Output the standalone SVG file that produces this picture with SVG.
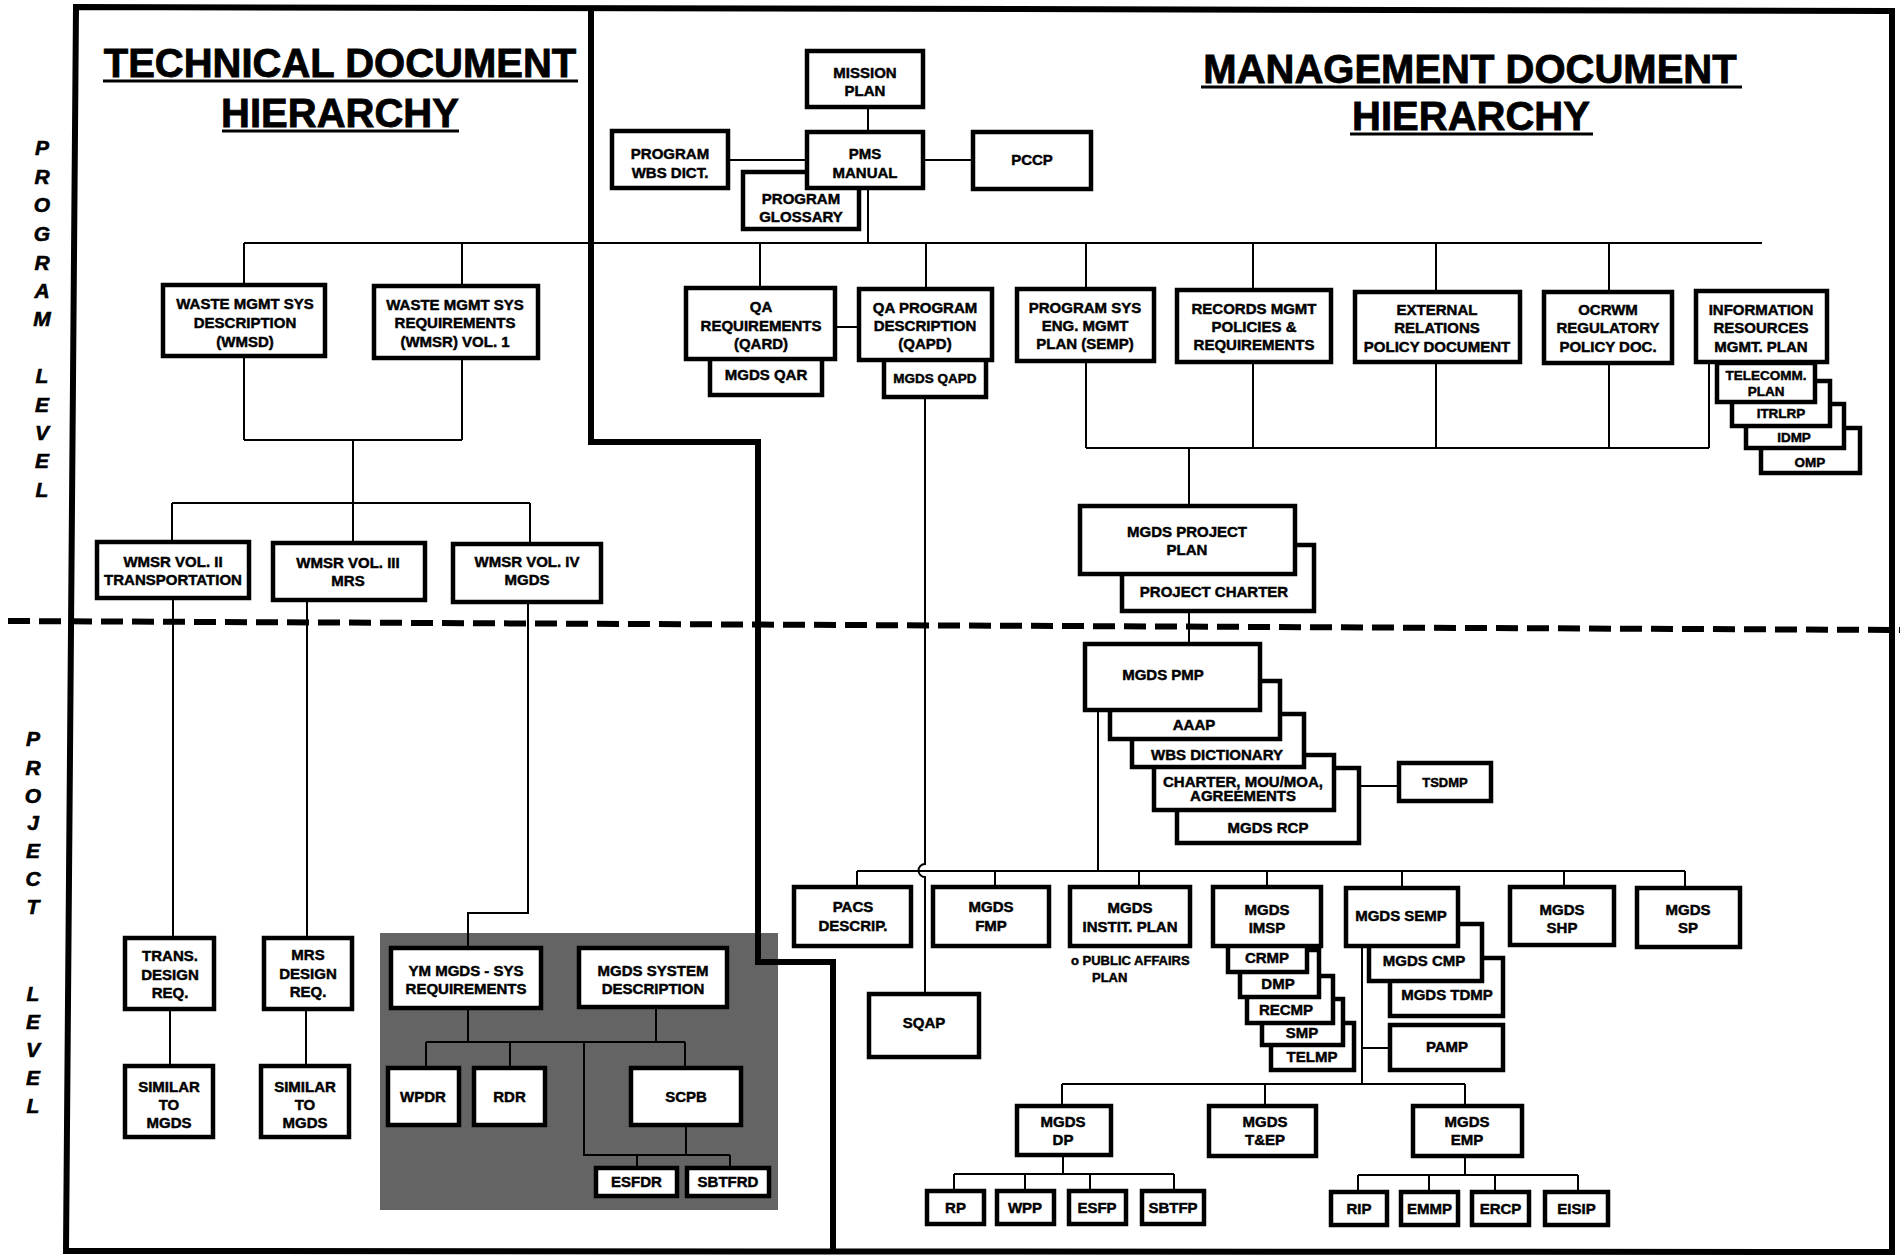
<svg xmlns="http://www.w3.org/2000/svg" width="1900" height="1255" viewBox="0 0 1900 1255">
<style>
.b{fill:#fff;stroke:#000;stroke-width:4.5}
.c{fill:none;stroke:#000;stroke-width:2}
.t{font-family:"Liberation Sans",Arial,sans-serif;font-weight:bold;font-size:15px;text-anchor:middle;fill:#000;stroke:#000;stroke-width:0.45}
.s{font-size:13.5px}
.ti{font-family:"Liberation Sans",Arial,sans-serif;font-weight:bold;font-size:40px;text-anchor:middle;fill:#000;stroke:#000;stroke-width:0.8}
.side{font-family:"Liberation Sans",Arial,sans-serif;font-weight:bold;font-style:italic;font-size:21px;text-anchor:middle;fill:#000;stroke:#000;stroke-width:0.6}
.ul{stroke:#000;stroke-width:3}
.frame{fill:none;stroke:#000;stroke-width:6}
</style>
<rect x="0" y="0" width="1900" height="1255" fill="#fff"/>

<!-- shaded region -->
<rect id="shade" x="380" y="933" width="398" height="277" fill="#646464"/>

<!-- side labels -->
<g id="program-level-label" class="side">
<text x="42" y="155">P</text><text x="42" y="184">R</text><text x="42" y="212">O</text><text x="42" y="241">G</text><text x="42" y="270">R</text><text x="42" y="298">A</text><text x="42" y="326">M</text>
<text x="42" y="383">L</text><text x="42" y="412">E</text><text x="42" y="440">V</text><text x="42" y="468">E</text><text x="42" y="497">L</text>
</g>
<g id="project-level-label" class="side">
<text x="33" y="746">P</text><text x="33" y="775">R</text><text x="33" y="803">O</text><text x="33" y="830">J</text><text x="33" y="858">E</text><text x="33" y="886">C</text><text x="33" y="914">T</text>
<text x="33" y="1001">L</text><text x="33" y="1029">E</text><text x="33" y="1057">V</text><text x="33" y="1085">E</text><text x="33" y="1113">L</text>
</g>

<!-- titles -->
<g id="title-technical">
<text class="ti" x="340" y="77">TECHNICAL DOCUMENT</text>
<line class="ul" x1="103" y1="81" x2="578" y2="81"/>
<text class="ti" x="340" y="127">HIERARCHY</text>
<line class="ul" x1="222" y1="131" x2="459" y2="131"/>
</g>
<g id="title-management">
<text class="ti" x="1470" y="83">MANAGEMENT DOCUMENT</text>
<line class="ul" x1="1201" y1="87" x2="1742" y2="87"/>
<text class="ti" x="1471" y="130">HIERARCHY</text>
<line class="ul" x1="1350" y1="134" x2="1593" y2="134"/>
</g>

<!-- connectors -->
<g id="connectors" class="c">
<path d="M244,243 H1762"/>
<path d="M244,243 V285 M462,243 V286"/>
<path d="M244,356 V440 M462,358 V440 M244,440 H462 M353,440 V503 M172,503 H530 M172,503 V542 M353,503 V543 M530,503 V544"/>
<path d="M173,598 V938 M307,600 V938"/>
<path d="M528,602 V913 H468 V948"/>
<path d="M170,1009 V1066 M306,1009 V1066"/>
<path d="M468,1008 V1042 M656,1007 V1042 M426,1042 H685 M426,1042 V1068 M510,1042 V1068 M685,1042 V1068"/>
<path d="M584,1042 V1155 H730 M637,1155 V1168 M730,1155 V1168 M686,1125 V1155"/>
<path d="M868,107 V132 M728,160 H807 M923,160 H973 M868,188 V243"/>
<path d="M760,243 V288 M926,243 V289 M1086,243 V289 M1253,243 V290 M1436,243 V292 M1609,243 V292"/>
<path d="M835,327 H859"/>
<path d="M1086,361 V448 M1253,362 V448 M1436,362 V448 M1609,363 V448 M1709,362 V448 M1086,448 H1709 M1189,448 V506"/>
<path d="M1189,611 V644"/>
<path d="M1359,786 H1399"/>
<path d="M1098,710 V871 M857,871 H1685"/>
<path d="M857,871 V887 M995,871 V887 M1139,871 V887 M1267,871 V887 M1402,871 V888 M1564,871 V887 M1685,871 V888"/>
<path d="M925,397 V864 A6.5,6.5 0 0 0 925,877 V994"/>
<path d="M1362,946 V1084 M1362,1048 H1390 M1062,1084 H1465 M1062,1084 V1106 M1265,1084 V1106 M1465,1084 V1106"/>
<path d="M1063,1155 V1174 M954,1174 H1174 M954,1174 V1191 M1025,1174 V1191 M1090,1174 V1191 M1174,1174 V1191"/>
<path d="M1465,1156 V1175 M1358,1175 H1578 M1358,1175 V1192 M1429,1175 V1192 M1495,1175 V1192 M1578,1175 V1192"/>
</g>

<!-- technical program-level nodes -->
<g id="wmsd"><rect class="b" x="163" y="285" width="162" height="71"/><text class="t"><tspan x="245" y="309">WASTE MGMT SYS</tspan><tspan x="245" y="328">DESCRIPTION</tspan><tspan x="245" y="347">(WMSD)</tspan></text></g>
<g id="wmsr1"><rect class="b" x="374" y="286" width="164" height="72"/><text class="t"><tspan x="455" y="310">WASTE MGMT SYS</tspan><tspan x="455" y="328">REQUIREMENTS</tspan><tspan x="455" y="347">(WMSR) VOL. 1</tspan></text></g>
<g id="wmsr2"><rect class="b" x="97" y="542" width="152" height="56"/><text class="t"><tspan x="173" y="567">WMSR VOL. II</tspan><tspan x="173" y="585">TRANSPORTATION</tspan></text></g>
<g id="wmsr3"><rect class="b" x="273" y="543" width="152" height="57"/><text class="t"><tspan x="348" y="568">WMSR VOL. III</tspan><tspan x="348" y="586">MRS</tspan></text></g>
<g id="wmsr4"><rect class="b" x="453" y="544" width="148" height="58"/><text class="t"><tspan x="527" y="567">WMSR VOL. IV</tspan><tspan x="527" y="585">MGDS</tspan></text></g>

<!-- technical project-level nodes -->
<g id="trans-design"><rect class="b" x="125" y="938" width="89" height="71"/><text class="t"><tspan x="170" y="961">TRANS.</tspan><tspan x="170" y="980">DESIGN</tspan><tspan x="170" y="998">REQ.</tspan></text></g>
<g id="mrs-design"><rect class="b" x="264" y="938" width="88" height="71"/><text class="t"><tspan x="308" y="960">MRS</tspan><tspan x="308" y="979">DESIGN</tspan><tspan x="308" y="997">REQ.</tspan></text></g>
<g id="similar1"><rect class="b" x="125" y="1066" width="88" height="71"/><text class="t"><tspan x="169" y="1092">SIMILAR</tspan><tspan x="169" y="1110">TO</tspan><tspan x="169" y="1128">MGDS</tspan></text></g>
<g id="similar2"><rect class="b" x="261" y="1066" width="88" height="71"/><text class="t"><tspan x="305" y="1092">SIMILAR</tspan><tspan x="305" y="1110">TO</tspan><tspan x="305" y="1128">MGDS</tspan></text></g>
<g id="ym-sys-req"><rect class="b" x="391" y="948" width="150" height="60"/><text class="t"><tspan x="466" y="976">YM MGDS - SYS</tspan><tspan x="466" y="994">REQUIREMENTS</tspan></text></g>
<g id="mgds-sys-desc"><rect class="b" x="579" y="948" width="148" height="59"/><text class="t"><tspan x="653" y="976">MGDS SYSTEM</tspan><tspan x="653" y="994">DESCRIPTION</tspan></text></g>
<g id="wpdr"><rect class="b" x="388" y="1068" width="71" height="57"/><text class="t" x="423" y="1102">WPDR</text></g>
<g id="rdr"><rect class="b" x="474" y="1068" width="71" height="57"/><text class="t" x="509.5" y="1102">RDR</text></g>
<g id="scpb"><rect class="b" x="631" y="1068" width="110" height="57"/><text class="t" x="686" y="1102">SCPB</text></g>
<g id="esfdr"><rect class="b" x="596" y="1168" width="81" height="28"/><text class="t" x="636.5" y="1187">ESFDR</text></g>
<g id="sbtfrd"><rect class="b" x="687" y="1168" width="82" height="28"/><text class="t" x="728" y="1187">SBTFRD</text></g>

<!-- management program-level nodes -->
<g id="mission-plan"><rect class="b" x="807" y="51" width="116" height="56"/><text class="t"><tspan x="865" y="78">MISSION</tspan><tspan x="865" y="96">PLAN</tspan></text></g>
<g id="program-wbs"><rect class="b" x="612" y="131" width="116" height="57"/><text class="t"><tspan x="670" y="159">PROGRAM</tspan><tspan x="670" y="178">WBS DICT.</tspan></text></g>
<g id="program-glossary"><rect class="b" x="743" y="172" width="116" height="57"/><text class="t"><tspan x="801" y="204">PROGRAM</tspan><tspan x="801" y="222">GLOSSARY</tspan></text></g>
<g id="pms-manual"><rect class="b" x="807" y="132" width="116" height="56"/><text class="t"><tspan x="865" y="159">PMS</tspan><tspan x="865" y="178">MANUAL</tspan></text></g>
<g id="pccp"><rect class="b" x="973" y="132" width="118" height="57"/><text class="t" x="1032" y="165">PCCP</text></g>

<g id="mgds-qar"><rect class="b" x="710" y="355" width="112" height="40"/><text class="t" x="766" y="380">MGDS QAR</text></g>
<g id="qard"><rect class="b" x="686" y="288" width="149" height="71"/><text class="t"><tspan x="761" y="312">QA</tspan><tspan x="761" y="331">REQUIREMENTS</tspan><tspan x="761" y="349">(QARD)</tspan></text></g>
<g id="mgds-qapd"><rect class="b" x="884" y="356" width="102" height="41"/><text class="t s" x="935" y="383">MGDS QAPD</text></g>
<g id="qapd"><rect class="b" x="859" y="289" width="133" height="71"/><text class="t"><tspan x="925" y="313">QA PROGRAM</tspan><tspan x="925" y="331">DESCRIPTION</tspan><tspan x="925" y="349">(QAPD)</tspan></text></g>
<g id="semp-program"><rect class="b" x="1017" y="289" width="137" height="72"/><text class="t"><tspan x="1085" y="313">PROGRAM SYS</tspan><tspan x="1085" y="331">ENG. MGMT</tspan><tspan x="1085" y="349">PLAN (SEMP)</tspan></text></g>
<g id="records-mgmt"><rect class="b" x="1177" y="290" width="154" height="72"/><text class="t"><tspan x="1254" y="314">RECORDS MGMT</tspan><tspan x="1254" y="332">POLICIES &amp;</tspan><tspan x="1254" y="350">REQUIREMENTS</tspan></text></g>
<g id="external-relations"><rect class="b" x="1355" y="292" width="165" height="70"/><text class="t"><tspan x="1437" y="315">EXTERNAL</tspan><tspan x="1437" y="333">RELATIONS</tspan><tspan x="1437" y="352">POLICY DOCUMENT</tspan></text></g>
<g id="ocrwm"><rect class="b" x="1544" y="292" width="128" height="71"/><text class="t"><tspan x="1608" y="315">OCRWM</tspan><tspan x="1608" y="333">REGULATORY</tspan><tspan x="1608" y="352">POLICY DOC.</tspan></text></g>
<g id="omp"><rect class="b" x="1761" y="428" width="99" height="45"/><text class="t s" x="1810" y="467">OMP</text></g>
<g id="idmp"><rect class="b" x="1746" y="404" width="98" height="44"/><text class="t s" x="1794" y="442">IDMP</text></g>
<g id="itrlrp"><rect class="b" x="1732" y="381" width="98" height="45"/><text class="t s" x="1781" y="418">ITRLRP</text></g>
<g id="telecomm"><rect class="b" x="1717" y="363" width="98" height="39"/><text class="t s"><tspan x="1766" y="380">TELECOMM.</tspan><tspan x="1766" y="396">PLAN</tspan></text></g>
<g id="info-resources"><rect class="b" x="1696" y="291" width="131" height="71"/><text class="t"><tspan x="1761" y="315">INFORMATION</tspan><tspan x="1761" y="333">RESOURCES</tspan><tspan x="1761" y="352">MGMT. PLAN</tspan></text></g>

<g id="project-charter"><rect class="b" x="1122" y="545" width="192" height="66"/><text class="t" x="1214" y="597">PROJECT CHARTER</text></g>
<g id="mgds-project-plan"><rect class="b" x="1080" y="506" width="215" height="68"/><text class="t"><tspan x="1187" y="537">MGDS PROJECT</tspan><tspan x="1187" y="555">PLAN</tspan></text></g>

<!-- management project-level nodes -->
<g id="mgds-rcp"><rect class="b" x="1177" y="768" width="182" height="75"/><text class="t" x="1268" y="833">MGDS RCP</text></g>
<g id="charter-mou"><rect class="b" x="1154" y="755" width="180" height="55"/><text class="t"><tspan x="1243" y="787">CHARTER, MOU/MOA,</tspan><tspan x="1243" y="801">AGREEMENTS</tspan></text></g>
<g id="wbs-dictionary"><rect class="b" x="1132" y="714" width="172" height="53"/><text class="t" x="1217" y="760">WBS DICTIONARY</text></g>
<g id="aaap"><rect class="b" x="1110" y="681" width="170" height="58"/><text class="t" x="1194" y="730">AAAP</text></g>
<g id="mgds-pmp"><rect class="b" x="1085" y="644" width="175" height="66"/><text class="t" x="1163" y="680">MGDS PMP</text></g>
<g id="tsdmp"><rect class="b" x="1399" y="763" width="92" height="38"/><text class="t" style="font-size:13px" x="1445" y="787">TSDMP</text></g>

<g id="pacs"><rect class="b" x="794" y="887" width="117" height="59"/><text class="t"><tspan x="853" y="912">PACS</tspan><tspan x="853" y="931">DESCRIP.</tspan></text></g>
<g id="mgds-fmp"><rect class="b" x="933" y="887" width="116" height="59"/><text class="t"><tspan x="991" y="912">MGDS</tspan><tspan x="991" y="931">FMP</tspan></text></g>
<g id="mgds-instit"><rect class="b" x="1070" y="887" width="120" height="59"/><text class="t"><tspan x="1130" y="913">MGDS</tspan><tspan x="1130" y="932">INSTIT. PLAN</tspan></text>
<text class="t" style="font-size:13px;text-anchor:start"><tspan x="1071" y="965">o PUBLIC AFFAIRS</tspan><tspan x="1092" y="982">PLAN</tspan></text></g>
<g id="telmp"><rect class="b" x="1271" y="1023" width="83" height="47"/><text class="t" x="1312" y="1062">TELMP</text></g>
<g id="smp"><rect class="b" x="1262" y="999" width="81" height="46"/><text class="t" x="1302" y="1038">SMP</text></g>
<g id="recmp"><rect class="b" x="1247" y="976" width="86" height="47"/><text class="t" x="1286" y="1015">RECMP</text></g>
<g id="dmp"><rect class="b" x="1240" y="950" width="79" height="47"/><text class="t" x="1278" y="989">DMP</text></g>
<g id="crmp"><rect class="b" x="1228" y="935" width="79" height="37"/><text class="t" x="1267" y="963">CRMP</text></g>
<g id="mgds-imsp"><rect class="b" x="1213" y="887" width="108" height="59"/><text class="t"><tspan x="1267" y="915">MGDS</tspan><tspan x="1267" y="933">IMSP</tspan></text></g>
<g id="mgds-tdmp"><rect class="b" x="1390" y="958" width="113" height="58"/><text class="t" x="1447" y="1000">MGDS TDMP</text></g>
<g id="mgds-cmp"><rect class="b" x="1369" y="924" width="113" height="57"/><text class="t" x="1424" y="966">MGDS CMP</text></g>
<g id="mgds-semp"><rect class="b" x="1346" y="888" width="112" height="58"/><text class="t" x="1401" y="921">MGDS SEMP</text></g>
<g id="pamp"><rect class="b" x="1390" y="1025" width="113" height="45"/><text class="t" x="1447" y="1052">PAMP</text></g>
<g id="mgds-shp"><rect class="b" x="1510" y="887" width="104" height="58"/><text class="t"><tspan x="1562" y="915">MGDS</tspan><tspan x="1562" y="933">SHP</tspan></text></g>
<g id="mgds-sp"><rect class="b" x="1637" y="888" width="103" height="59"/><text class="t"><tspan x="1688" y="915">MGDS</tspan><tspan x="1688" y="933">SP</tspan></text></g>
<g id="sqap"><rect class="b" x="869" y="994" width="110" height="63"/><text class="t" x="924" y="1028">SQAP</text></g>
<g id="mgds-dp"><rect class="b" x="1017" y="1106" width="94" height="49"/><text class="t"><tspan x="1063" y="1127">MGDS</tspan><tspan x="1063" y="1145">DP</tspan></text></g>
<g id="mgds-tep"><rect class="b" x="1209" y="1106" width="107" height="50"/><text class="t"><tspan x="1265" y="1127">MGDS</tspan><tspan x="1265" y="1145">T&amp;EP</tspan></text></g>
<g id="mgds-emp"><rect class="b" x="1413" y="1106" width="109" height="50"/><text class="t"><tspan x="1467" y="1127">MGDS</tspan><tspan x="1467" y="1145">EMP</tspan></text></g>
<g id="rp"><rect class="b" x="927" y="1191" width="57" height="33"/><text class="t" x="955.5" y="1213">RP</text></g>
<g id="wpp"><rect class="b" x="997" y="1191" width="57" height="33"/><text class="t" x="1025" y="1213">WPP</text></g>
<g id="esfp"><rect class="b" x="1069" y="1191" width="57" height="33"/><text class="t" x="1097" y="1213">ESFP</text></g>
<g id="sbtfp"><rect class="b" x="1142" y="1191" width="62" height="33"/><text class="t" x="1173" y="1213">SBTFP</text></g>
<g id="rip"><rect class="b" x="1331" y="1192" width="56" height="33"/><text class="t" x="1359" y="1214">RIP</text></g>
<g id="emmp"><rect class="b" x="1401" y="1192" width="57" height="33"/><text class="t" x="1429.5" y="1214">EMMP</text></g>
<g id="ercp"><rect class="b" x="1472" y="1192" width="57" height="33"/><text class="t" x="1500.5" y="1214">ERCP</text></g>
<g id="eisip"><rect class="b" x="1545" y="1192" width="63" height="33"/><text class="t" x="1576.5" y="1214">EISIP</text></g>

<!-- frame, divider and level separator -->
<g id="frame">
<polygon class="frame" points="76,7 1892,11 1892,1252 66,1251"/>
<polyline class="frame" points="591,8 591,442 758,442 758,962 833,962 833,1251"/>
<line x1="8" y1="621" x2="1900" y2="630" stroke="#000" stroke-width="6" stroke-dasharray="22 9"/>
</g>
</svg>
